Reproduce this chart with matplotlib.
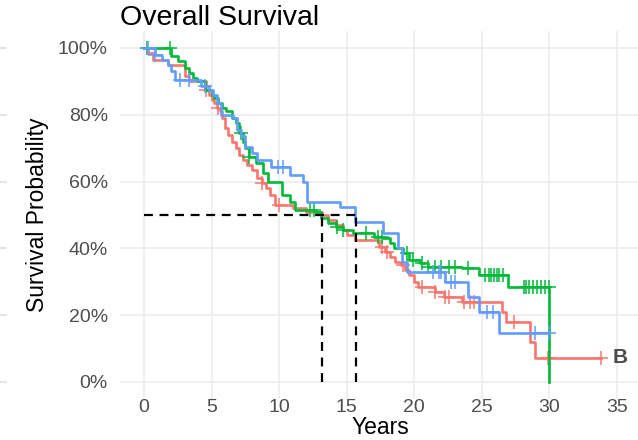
import numpy as np
import matplotlib
matplotlib.use("Agg")
import matplotlib.pyplot as plt
from matplotlib.transforms import blended_transform_factory

plt.rcParams["font.family"] = ["Liberation Sans", "DejaVu Sans"]

# =========================================================
# Dados
# =========================================================
tempos_red = [0, 0.3, 0.7, 1.8, 3.0, 3.3, 4.6, 4.8, 5.0, 5.2, 5.4, 5.6, 5.8, 6.0, 6.2,
              6.5, 6.8, 7.0, 7.3, 7.6, 8.0, 8.4, 8.7, 9.0, 9.3, 9.7, 11.0, 12.0, 13.2,
              13.6, 14.2, 14.7, 15.0, 15.6, 17.4, 17.8, 18.2, 18.6, 19.0, 19.3, 19.6,
              20.0, 20.3, 21.5, 22.2, 23.5, 26.5, 26.8, 28.6, 28.9]
surv_red = [1.0, 0.985, 0.965, 0.95, 0.915, 0.90, 0.875, 0.86, 0.845, 0.835, 0.82, 0.81,
            0.79, 0.76, 0.74, 0.72, 0.70, 0.68, 0.665, 0.65, 0.635, 0.61, 0.595, 0.58,
            0.56, 0.53, 0.52, 0.51, 0.50, 0.485, 0.47, 0.455, 0.44, 0.425, 0.405, 0.39,
            0.375, 0.36, 0.35, 0.335, 0.32, 0.30, 0.285, 0.27, 0.255, 0.24, 0.21, 0.18,
            0.12, 0.072]
censura_red = [4.6, 5.5, 8.7, 10.0, 17.6, 18.0, 19.2, 20.6, 21.5, 22.3, 22.6, 23.7, 24.1,
               24.4, 27.4, 29.9, 33.8]

tempos_green = [0, 2.0, 2.5, 3.0, 3.3, 3.6, 3.9, 4.5, 5.0, 5.2, 5.5, 5.8, 6.1, 6.5, 6.8,
                7.0, 7.3, 7.5, 7.8, 8.3, 8.8, 9.2, 10.2, 10.8, 11.2, 12.7, 13.1, 13.6,
                14.2, 14.7, 15.5, 17.0, 17.7, 18.2, 18.5, 19.2, 19.6, 20.4, 21.0, 23.5,
                24.8, 26.9, 30.0]
surv_green = [1.0, 0.975, 0.96, 0.94, 0.925, 0.91, 0.90, 0.875, 0.86, 0.85, 0.835, 0.82,
              0.81, 0.79, 0.775, 0.745, 0.72, 0.70, 0.675, 0.655, 0.625, 0.60, 0.56, 0.54,
              0.515, 0.51, 0.49, 0.475, 0.465, 0.455, 0.445, 0.435, 0.43, 0.415, 0.40,
              0.385, 0.365, 0.355, 0.345, 0.34, 0.32, 0.285, 0.0]
censura_green = [0.2, 1.9, 7.2, 7.8, 12.3, 12.6, 14.3, 14.7, 16.4, 17.3, 17.6, 19.5, 19.9,
                 20.6, 21.0, 21.5, 22.0, 22.6, 23.0, 24.0, 25.2, 25.5, 25.7, 25.9, 26.1,
                 26.3, 26.6, 28.1, 28.3, 28.5, 28.8, 29.1, 29.4, 29.7, 29.95]

tempos_blue = [0, 0.8, 1.3, 1.8, 2.0, 2.3, 4.2, 4.8, 5.1, 5.4, 5.7, 6.6, 6.9, 7.2, 7.5,
               8.0, 8.4, 9.4, 10.8, 11.8, 12.1, 14.5, 15.6, 17.7, 18.8, 19.1, 19.5, 22.3,
               24.0, 24.8, 26.3]
surv_blue = [1.0, 0.98, 0.965, 0.95, 0.93, 0.905, 0.885, 0.875, 0.86, 0.835, 0.80, 0.79,
             0.755, 0.735, 0.705, 0.685, 0.665, 0.645, 0.62, 0.60, 0.54, 0.525, 0.48,
             0.445, 0.40, 0.36, 0.33, 0.30, 0.255, 0.21, 0.147]
censura_blue = [0.3, 0.8, 2.7, 3.3, 4.5, 9.9, 10.3, 21.4, 21.8, 22.0, 22.7, 23.0, 25.4,
                25.8, 28.9, 30.0]

medianas = [13.2, 15.7]
rotulo_fim = "B"

cores = {"red": "#F8766D", "green": "#00BA38", "blue": "#619CFF"}
grupos = [
    ("red", tempos_red, surv_red, censura_red),
    ("green", tempos_green, surv_green, censura_green),
    ("blue", tempos_blue, surv_blue, censura_blue),
]


def valor_em(tempos, surv, t):
    i = np.searchsorted(tempos, t, side="right") - 1
    return surv[i]


# =========================================================
# Figura
# =========================================================
fig = plt.figure(figsize=(6.38, 4.4), dpi=100)
ax = fig.add_axes([0.1886, 0.0939, 0.8155, 0.835])

for nome, tempos, surv, censura in grupos:
    fim = max(tempos[-1], max(censura))
    xs = list(tempos) + [fim]
    ys = list(surv) + [surv[-1]]
    ax.step(xs, ys, where="post", color=cores[nome], lw=1.9, zorder=3)
    yc = [valor_em(tempos, surv, t) for t in censura]
    ax.plot(censura, yc, ls="none", marker="+", ms=10, mew=1.1,
            color=cores[nome], zorder=3)

# linhas da mediana
ax.plot([0, max(medianas)], [0.5, 0.5], color="black", lw=1.6, ls=(0, (4, 3)), zorder=4)
for m in medianas:
    ax.plot([m, m], [0, 0.5], color="black", lw=1.6, ls=(0, (4, 3)), zorder=4)

ax.text(34.7, 0.072, rotulo_fim, color="#4D4D4D", fontsize=15, fontweight="bold",
        ha="left", va="center")

ax.set_xlim(-1.75, 36.75)
ax.set_ylim(-0.05, 1.05)
ax.set_xticks(range(0, 36, 5))
ax.set_yticks([0, 0.2, 0.4, 0.6, 0.8, 1.0])
ax.set_yticklabels(["0%", "20%", "40%", "60%", "80%", "100%"])
ax.tick_params(length=0, labelsize=14, labelcolor="#4D4D4D")
ax.tick_params(axis="y", pad=9)
ax.tick_params(axis="x", pad=0)
ax.grid(True, color="#EBEBEB", lw=1.1, zorder=0)
ax.set_axisbelow(True)
for s in ax.spines.values():
    s.set_visible(False)

ax.set_xlabel("Years", fontsize=16.5, color="black", labelpad=0)
ax.set_ylabel("Survival Probability", fontsize=16.5, color="black", labelpad=6)
ax.set_title("Overall Survival", loc="left", fontsize=20.5, color="black", pad=4)

# marcas cortadas na borda esquerda
trans = blended_transform_factory(fig.transFigure, ax.transData)
for y in [0, 0.2, 0.4, 0.6, 0.8, 1.0]:
    ax.plot([0, 0.009], [y, y], color="#DDDDDD", lw=1.1, transform=trans, clip_on=False)

fig.savefig("out.png", dpi=100)
